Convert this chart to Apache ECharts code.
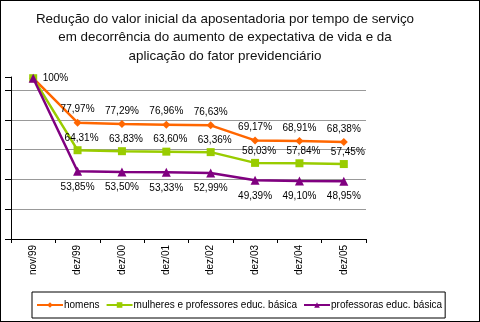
<!DOCTYPE html>
<html>
<head>
<meta charset="utf-8">
<script src="https://cdn.jsdelivr.net/npm/echarts@6/dist/echarts.min.js"></script>
<style>
html,body{margin:0;padding:0;background:#fff;}
#c{width:480px;height:322px;box-sizing:border-box;border:1px solid #000;}
</style>
</head>
<body>
<div id="c"></div>
<script>
const categories = ['nov/99','dez/99','dez/00','dez/01','dez/02','dez/03','dez/04','dez/05'];
const homens = [100, 77.97, 77.29, 76.96, 76.63, 69.17, 68.91, 68.38];
const mulheres = [100, 64.31, 63.83, 63.60, 63.36, 58.03, 57.84, 57.45];
const professoras = [100, 53.85, 53.50, 53.33, 52.99, 49.39, 49.10, 48.95];
const seriesNames = ['homens', 'mulheres e professores educ. básica', 'professoras educ. básica'];
const titleText = 'Redução do valor inicial da aposentadoria por tempo de serviço\nem decorrência do aumento de expectativa de vida e da\naplicação do fator previdenciário';

const FONT = 'Liberation Sans, Arial, sans-serif';
function fmt(v){ return v === 100 ? '100%' : v.toFixed(2).replace('.', ',') + '%'; }

function mkData(arr, firstLabel){
  return arr.map((v,i)=>{
    if(i===0){
      return firstLabel ? {value:v, label:{show:true, position:'right', distance:5}} : {value:v, label:{show:false}};
    }
    return v;
  });
}

const chart = echarts.init(document.getElementById('c'), null, {renderer:'canvas'});
chart.setOption({
  animation:false,
  textStyle:{fontFamily:FONT},
  title:{
    text:titleText,
    left:219, top:4, textAlign:'center',
    textStyle:{fontFamily:FONT, fontSize:13.4, fontWeight:'normal', color:'#111', lineHeight:18.5}
  },
  grid:{left:10, right:113, top:76, bottom:82, containLabel:false},
  legend:{
    data:seriesNames,
    left:31, top:291,
    padding:[8,3,8,4],
    borderColor:'#000', borderWidth:1,
    itemWidth:26, itemHeight:7, itemGap:6,
    textStyle:{fontFamily:FONT, fontSize:10, color:'#000', padding:[0,0,0,-4]}
  },
  xAxis:{
    type:'category',
    data:categories,
    boundaryGap:true,
    axisLine:{lineStyle:{color:'#000', width:1}},
    axisTick:{show:true, length:4, lineStyle:{color:'#000'}},
    axisLabel:{rotate:90, fontSize:10, color:'#000', fontFamily:FONT, margin:6},
    splitLine:{show:false}
  },
  yAxis:{
    type:'value',
    min:20.3, max:100.6, interval:14.75,
    axisLine:{show:true, lineStyle:{color:'#000', width:1}},
    axisTick:{show:true, length:6, inside:false, lineStyle:{color:'#000'}},
    axisLabel:{show:false},
    splitLine:{show:true, showMinLine:false, showMaxLine:false, lineStyle:{color:'#999', width:1}}
  },
  series:[
    {
      name:seriesNames[0], type:'line', data:mkData(homens,false),
      symbol:'diamond', symbolSize:8,
      lineStyle:{color:'#FF6600', width:2.5},
      itemStyle:{color:'#FF6600'},
      label:{show:true, position:'top', distance:4, fontSize:10, color:'#000', fontFamily:FONT, formatter:p=>fmt(p.value)},
      z:2
    },
    {
      name:seriesNames[1], type:'line', data:mkData(mulheres,false),
      symbol:'rect', symbolSize:8,
      lineStyle:{color:'#99CC00', width:2.5},
      itemStyle:{color:'#99CC00'},
      label:{show:true, position:'top', distance:3, offset:[4,0], fontSize:10, color:'#000', fontFamily:FONT, formatter:p=>fmt(p.value)},
      z:3
    },
    {
      name:seriesNames[2], type:'line', data:mkData(professoras,true),
      symbol:'triangle', symbolSize:9,
      lineStyle:{color:'#800080', width:2.5},
      itemStyle:{color:'#800080'},
      label:{show:true, position:'bottom', distance:6, fontSize:10, color:'#000', fontFamily:FONT, formatter:p=>fmt(p.value)},
      z:4
    }
  ]
});
</script>
</body>
</html>
